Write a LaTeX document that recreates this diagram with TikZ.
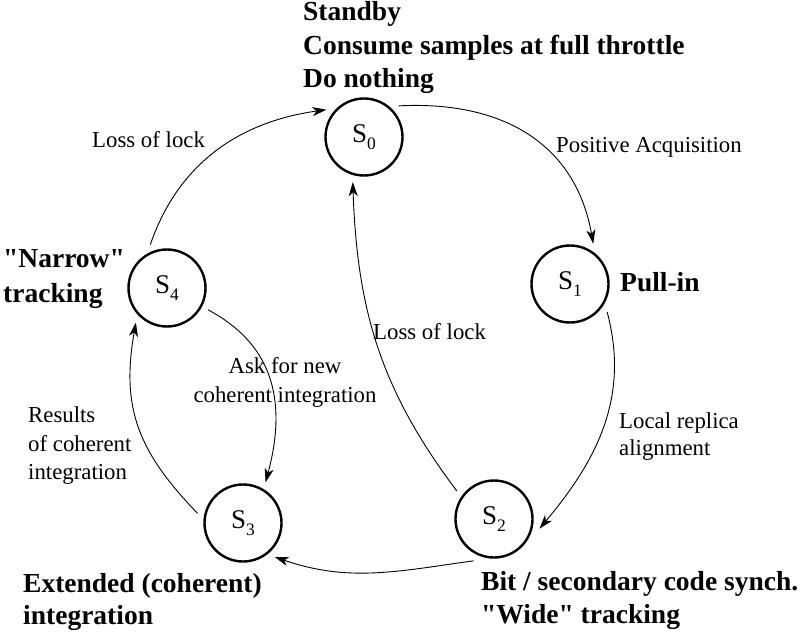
\documentclass[tikz,border=0pt]{standalone}
\usepackage{fontspec}
\setmainfont{Liberation Serif}[Ligatures=TeXOff]
\usetikzlibrary{arrows.meta}
\newcommand{\stlabel}[1]{S\raisebox{-0.25em}{\fontsize{17.5}{17.5}\selectfont #1}}
\begin{document}
\begin{tikzpicture}[x=1pt,y=1pt,
  stnode/.style={circle, draw, line width=2.4pt, minimum size=77pt, inner sep=0pt, outer sep=8pt,
    font=\fontsize{27}{27}\selectfont},
  boldtxt/.style={anchor=base west, inner sep=0pt, font=\fontsize{27.5}{27.5}\selectfont\bfseries},
  plaintxt/.style={anchor=base west, inner sep=0pt, font=\fontsize{22.8}{22.8}\selectfont},
  plainctr/.style={anchor=base, inner sep=0pt, font=\fontsize{22.8}{22.8}\selectfont},
  trans/.style={line width=0.9pt, -{Stealth[length=14pt,width=9pt,inset=4pt]}}]
\useasboundingbox (0,0) rectangle (800,633);

% states
\node[stnode] (S0) at (364,496) {\stlabel{0}};
\node[stnode] (S1) at (570,349) {\stlabel{1}};
\node[stnode] (S2) at (494,114) {\stlabel{2}};
\node[stnode] (S3) at (243,110) {\stlabel{3}};
\node[stnode] (S4) at (167,345) {\stlabel{4}};

% state descriptions
\node[boldtxt] (d0a) at (303,612) {Standby};
\node[boldtxt] (d0b) at (303,578) {Consume samples at full throttle};
\node[boldtxt] (d0c) at (303,545) {Do nothing};
\node[boldtxt] (d1) at (620,342) {Pull-in};
\node[boldtxt] (d2a) at (481,43) {Bit / secondary code synch.};
\node[boldtxt] (d2b) at (481,10) {"Wide" tracking};
\node[boldtxt] (d3a) at (23,41) {Extended (coherent)};
\node[boldtxt] (d3b) at (23,9) {integration};
\node[boldtxt] (d4a) at (3,366) {"Narrow"};
\node[boldtxt] (d4b) at (3,331) {tracking};

% transitions
\draw[trans] (S0.42) to[out=3, in=100, looseness=1.1] (S1.60);
\draw[trans] (S1.-37) to[out=-75, in=50] (S2.-12);
\draw[trans] (S2.143) to[out=127, in=-88] (S0.-104);
\draw[trans] (S2.-116) to[out=188, in=-19] (S3.-47);
\draw[trans] (S3.168) to[out=134, in=-100, looseness=1.1] (S4.-132);
\draw[trans] (S4.-28) to[out=-28, in=75, looseness=1.1] (S3.61);
\draw[trans] (S4.111) to[out=71, in=188] (S0.144);

% transition labels
\node[plaintxt] (l01) at (556,480) {Positive Acquisition};
\node[plaintxt] (l12a) at (619,205) {Local replica};
\node[plaintxt] (l12b) at (619,178) {alignment};
\node[plaintxt] (l20) at (373,294) {Loss of lock};
\node[plaintxt] (l40) at (92,485) {Loss of lock};
\node[plainctr] (l43a) at (285,260) {Ask for new};
\node[plainctr] (l43b) at (285,231) {coherent integration};
\node[plaintxt] (l34a) at (28,211) {Results};
\node[plaintxt] (l34b) at (28,182) {of coherent};
\node[plaintxt] (l34c) at (28,154) {integration};
\end{tikzpicture}
\end{document}
